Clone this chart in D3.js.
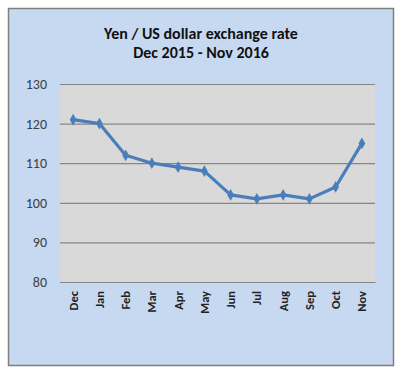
<!DOCTYPE html>
<html><head><meta charset="utf-8">
<script src="https://cdn.jsdelivr.net/npm/d3@7"></script>
<style>body{margin:0;background:#fff;}svg{display:block;}</style>
</head><body>
<script>
const titleLines = ["Yen / US dollar exchange rate", "Dec 2015 - Nov 2016"];
const months = ["Dec","Jan","Feb","Mar","Apr","May","Jun","Jul","Aug","Sep","Oct","Nov"];
const rates = [121, 120, 112, 110, 109, 108, 102, 101, 102, 101, 104, 115];
const yTicks = [80, 90, 100, 110, 120, 130];

const W = 405, H = 379;
const svg = d3.select("body").append("svg").attr("width", W).attr("height", H);

svg.append("rect").attr("x", 8.5).attr("y", 8.5).attr("width", 385).attr("height", 357)
  .attr("fill", "#c6d9f1").attr("stroke", "#7f7f7f").attr("stroke-width", 1.5);

const plot = {l: 60, r: 375, t: 84, b: 282};
const x = d3.scaleBand().domain(months).range([plot.l, plot.r]);
const y = d3.scaleLinear().domain([80, 130]).range([plot.b, plot.t]);

svg.append("rect").attr("x", plot.l).attr("y", plot.t).attr("width", plot.r - plot.l).attr("height", plot.b - plot.t)
  .attr("fill", "#d9d9d9");

const font = "Carlito, Lato, 'Open Sans', 'Liberation Sans', sans-serif";

svg.append("g").attr("transform", `translate(${plot.l},0)`)
  .call(d3.axisLeft(y).tickValues(yTicks).tickSize(-(plot.r - plot.l)).tickPadding(13).tickFormat(d3.format("d")))
  .call(g => g.select(".domain").remove())
  .call(g => g.selectAll(".tick line").attr("stroke", "#868686").attr("stroke-width", 1.2))
  .call(g => g.selectAll(".tick text").attr("fill", "#404040").style("font-size", "14px").style("font-family", font));

svg.append("g").attr("transform", `translate(0,${plot.b})`)
  .call(d3.axisBottom(x).tickSize(0).tickPadding(0))
  .call(g => g.select(".domain").attr("stroke", "#868686").attr("stroke-width", 1.2))
  .call(g => g.selectAll(".tick text")
    .attr("transform", "rotate(-90)")
    .attr("x", -9).attr("y", 0).attr("dy", "0.35em")
    .attr("text-anchor", "end")
    .attr("fill", "#222").style("font-size", "12.5px").style("font-weight", "bold").style("font-family", font));

const cx = d => x(d) + x.bandwidth() / 2;
const pts = months.map((m, i) => [cx(m), y(rates[i])]);

svg.append("path").attr("d", d3.line()(pts))
  .attr("fill", "none").attr("stroke", "#4a7ebb").attr("stroke-width", 3.2).attr("stroke-linejoin", "round");

svg.selectAll(".mk").data(pts).join("path").attr("class", "mk")
  .attr("transform", d => `translate(${d[0]},${d[1]})`)
  .attr("d", d3.symbol(d3.symbolDiamond, 40))
  .attr("fill", "#4a7ebb");

svg.append("g").selectAll("text").data(titleLines).join("text")
  .attr("x", 201).attr("y", (d, i) => 39 + i * 19)
  .attr("text-anchor", "middle")
  .attr("fill", "#111").style("font-size", "16px").style("font-weight", "bold").style("font-family", font)
  .text(d => d);
</script>
</body></html>
